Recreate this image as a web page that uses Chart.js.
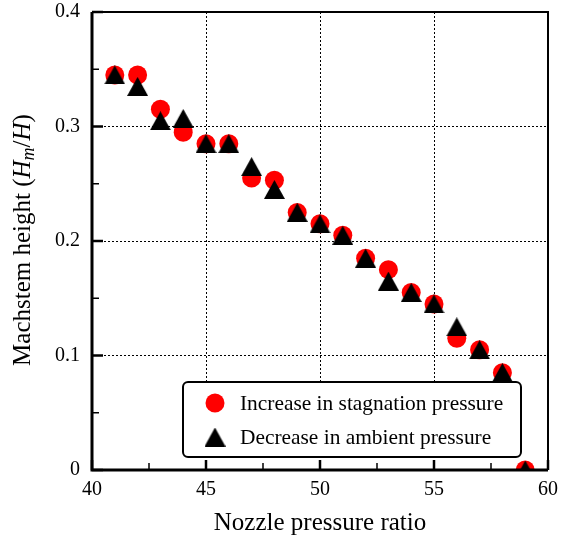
<!DOCTYPE html>
<html lang="en">
<head>
<meta charset="UTF-8">
<title>Machstem height vs nozzle pressure ratio</title>
<script src="https://cdn.jsdelivr.net/npm/chart.js"></script>
<style>
  html, body { margin: 0; padding: 0; background: #fff; }
  .wrap { width: 563px; height: 542px; }
</style>
</head>
<body>
<div class="wrap"><canvas id="chart" width="563" height="542"></canvas></div>
<script>
// data
const npr = [41, 42, 43, 44, 45, 46, 47, 48, 49, 50, 51, 52, 53, 54, 55, 56, 57, 58, 59];
const stagnation = [0.345, 0.345, 0.315, 0.295, 0.285, 0.285, 0.255, 0.253, 0.225, 0.215, 0.205, 0.185, 0.175, 0.155, 0.145, 0.115, 0.105, 0.085, 0.0];
const ambient = [0.345, 0.335, 0.305, 0.307, 0.285, 0.285, 0.265, 0.245, 0.225, 0.215, 0.205, 0.185, 0.165, 0.155, 0.145, 0.125, 0.105, 0.085, 0.0];
const seriesNames = ['Increase in stagnation pressure', 'Decrease in ambient pressure'];
const xMajor = [40, 45, 50, 55, 60];
const xMinor = [42.5, 47.5, 52.5, 57.5];
const yMajor = [0, 0.1, 0.2, 0.3, 0.4];
const yMinor = [0.05, 0.15, 0.25, 0.35];

const SERIF = '"Liberation Serif", "Times New Roman", serif';

// triangle marker centred on its bounding box
function makeTriangle(w, h) {
  const c = document.createElement('canvas');
  c.width = w; c.height = h;
  const g = c.getContext('2d');
  g.fillStyle = '#000';
  g.beginPath();
  g.moveTo(w / 2, 0);
  g.lineTo(w, h);
  g.lineTo(0, h);
  g.closePath();
  g.fill();
  return c;
}
const tri = makeTriangle(21, 19);

const toPts = ys => npr.map((x, i) => ({ x: x, y: ys[i] }));

// frame, inward ticks, legend and axis titles
const decorations = {
  id: 'decorations',
  afterDatasetsDraw(chart) {
    const { ctx, chartArea: a, scales: { x, y } } = chart;
    ctx.save();
    ctx.strokeStyle = '#000';
    ctx.lineCap = 'butt';

    // ticks
    const tick = (px, py, dx, dy, w) => {
      ctx.lineWidth = w;
      ctx.beginPath(); ctx.moveTo(px, py); ctx.lineTo(px + dx, py + dy); ctx.stroke();
    };
    xMajor.forEach(v => tick(x.getPixelForValue(v), a.bottom, 0, -10, 2.5));
    xMinor.forEach(v => tick(x.getPixelForValue(v), a.bottom, 0, -7, 1.5));
    yMajor.forEach(v => tick(a.left, y.getPixelForValue(v), 11, 0, 2.5));
    yMinor.forEach(v => tick(a.left, y.getPixelForValue(v), 7, 0, 1.5));

    // frame
    ctx.lineWidth = 2;
    ctx.beginPath();
    ctx.moveTo(a.left, a.top); ctx.lineTo(a.right, a.top); ctx.lineTo(a.right, a.bottom);
    ctx.stroke();
    ctx.lineWidth = 3;
    ctx.beginPath();
    ctx.moveTo(a.left, a.top); ctx.lineTo(a.left, a.bottom); ctx.lineTo(a.right, a.bottom);
    ctx.stroke();

    // legend
    const lx = 183, ly = 382, lw = 338, lh = 75;
    ctx.fillStyle = '#fff';
    ctx.lineWidth = 2;
    ctx.beginPath();
    ctx.roundRect(lx, ly, lw, lh, 5);
    ctx.fill();
    ctx.stroke();
    ctx.fillStyle = 'red';
    ctx.beginPath(); ctx.arc(215, 403, 9.5, 0, Math.PI * 2); ctx.fill();
    ctx.drawImage(tri, 215 - 10.5, 437 - 9.5);
    ctx.fillStyle = '#000';
    ctx.font = '21.4px ' + SERIF;
    ctx.textAlign = 'left';
    ctx.textBaseline = 'middle';
    ctx.fillText(seriesNames[0], 240, 404);
    ctx.fillText(seriesNames[1], 240, 438);

    // x title
    ctx.font = '25px ' + SERIF;
    ctx.textAlign = 'center';
    ctx.fillText('Nozzle pressure ratio', (a.left + a.right) / 2, 523);

    // y title with italic H_m / H
    const parts = [
      ['Machstem height (', '25px ' + SERIF, 0],
      ['H', 'italic 25px ' + SERIF, 0],
      ['m', 'italic 18px ' + SERIF, 6],
      ['/', '25px ' + SERIF, 0],
      ['H', 'italic 25px ' + SERIF, 0],
      [')', '25px ' + SERIF, 0]
    ];
    let total = 0;
    parts.forEach(p => { ctx.font = p[1]; total += ctx.measureText(p[0]).width; });
    ctx.translate(23, 240);
    ctx.rotate(-Math.PI / 2);
    ctx.textAlign = 'left';
    let cx = -total / 2;
    parts.forEach(p => {
      ctx.font = p[1];
      ctx.fillText(p[0], cx, p[2]);
      cx += ctx.measureText(p[0]).width;
    });
    ctx.restore();
  }
};

const edgeX = v => v === 40 || v === 60;
const edgeY = v => Math.abs(v) < 1e-9 || Math.abs(v - 0.4) < 1e-9;

new Chart(document.getElementById('chart'), {
  type: 'scatter',
  data: {
    datasets: [
      {
        label: seriesNames[0],
        data: toPts(stagnation),
        pointStyle: 'circle',
        pointRadius: 9.5,
        pointHoverRadius: 9.5,
        pointBorderWidth: 0,
        backgroundColor: 'red',
        borderColor: 'red',
        clip: 0,
        order: 2
      },
      {
        label: seriesNames[1],
        data: toPts(ambient),
        pointStyle: tri,
        pointRadius: 10,
        clip: 0,
        order: 1
      }
    ]
  },
  options: {
    responsive: false,
    animation: false,
    layout: { autoPadding: false, padding: { top: 12, right: 15, left: 0, bottom: 0 } },
    plugins: { legend: { display: false }, tooltip: { enabled: false } },
    scales: {
      x: {
        type: 'linear',
        min: 40, max: 60,
        afterFit: s => { s.height = 72; s.paddingLeft = 0; s.paddingRight = 0; },
        ticks: {
          stepSize: 5,
          padding: 8,
          color: '#000',
          maxRotation: 0,
          font: { family: SERIF, size: 20 }
        },
        grid: {
          drawTicks: false,
          color: c => edgeX(c.tick.value) ? 'rgba(0,0,0,0)' : '#000',
          lineWidth: 1
        },
        border: { display: false, dash: [2, 2] }
      },
      y: {
        type: 'linear',
        min: 0, max: 0.4,
        afterFit: s => { s.width = 92; s.paddingTop = 0; s.paddingBottom = 0; },
        ticks: {
          stepSize: 0.1,
          padding: 12,
          color: '#000',
          font: { family: SERIF, size: 20 },
          callback: v => Math.abs(v) < 1e-9 ? '0' : v.toFixed(1)
        },
        grid: {
          drawTicks: false,
          color: c => edgeY(c.tick.value) ? 'rgba(0,0,0,0)' : '#000',
          lineWidth: 1
        },
        border: { display: false, dash: [2, 2] }
      }
    }
  },
  plugins: [decorations]
});
</script>
</body>
</html>
